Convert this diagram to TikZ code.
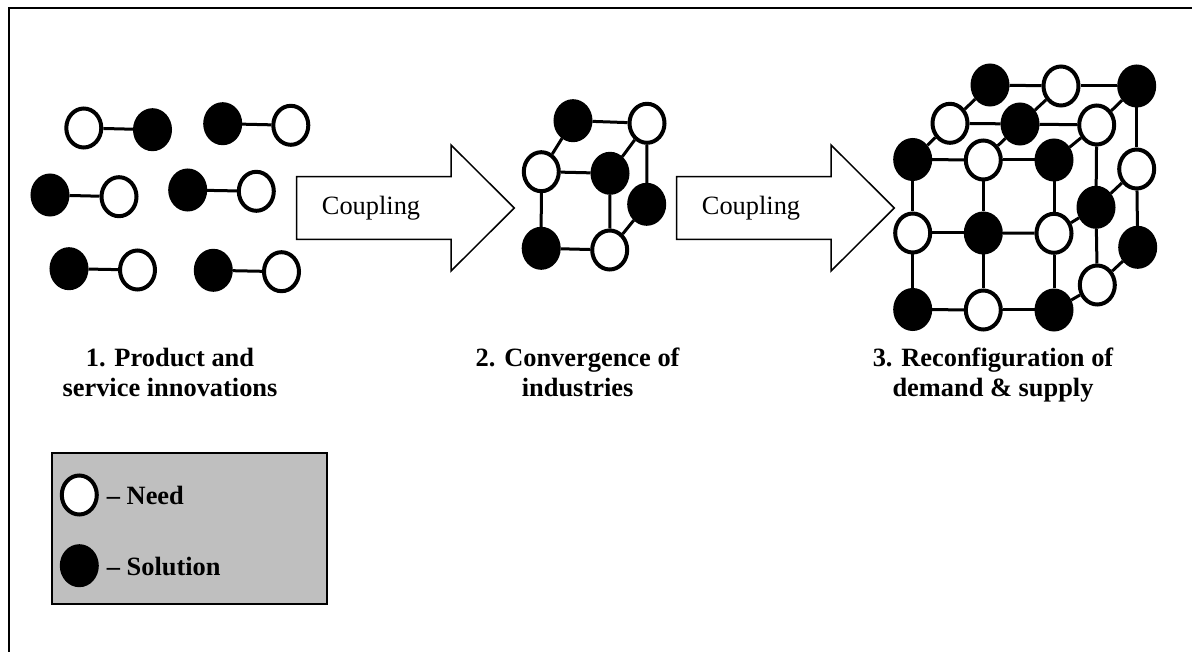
\documentclass[tikz,border=0pt]{standalone}
\usepackage{fontspec}
\setmainfont{Liberation Serif}
\usetikzlibrary{shapes.geometric}
\definecolor{legendgray}{RGB}{191,191,191}
\begin{document}
\begin{tikzpicture}[x=1pt,y=-1pt,
  need/.style={ellipse,draw=black,fill=white,line width=4pt,minimum width=35pt,minimum height=39pt,inner sep=0pt},
  sol/.style={ellipse,draw=black,fill=black,line width=4pt,minimum width=35pt,minimum height=39pt,inner sep=0pt},
  link/.style={line width=3pt},
  bigarrow/.style={draw=black,line width=1.5pt,fill=white,line join=miter},
  lbl/.style={font=\fontsize{26.4}{30}\selectfont\bfseries,align=center,inner sep=0pt,anchor=north},
  coup/.style={font=\fontsize{26.4}{30}\selectfont,inner sep=0pt,anchor=base west},
  legtxt/.style={font=\fontsize{26.4}{30}\selectfont\bfseries,inner sep=0pt,anchor=base west}
]
\useasboundingbox (0,0) rectangle (1192,652);
% frame
\draw[line width=2pt] (9,660) -- (9,8) -- (1200,8);

% ---- stage 1: pairs
\node[need] (p1a) at (83.8,128) {};
\node[sol]  (p1b) at (152.5,129.7) {};
\node[sol]  (p2a) at (222.7,123.7) {};
\node[need] (p2b) at (290.8,125.3) {};
\node[sol]  (p3a) at (50,195) {};
\node[need] (p3b) at (119,196.7) {};
\node[sol]  (p4a) at (187.7,190) {};
\node[need] (p4b) at (256.3,191.3) {};
\node[sol]  (p5a) at (69,268.7) {};
\node[need] (p5b) at (137.5,270) {};
\node[sol]  (p6a) at (213.3,270.3) {};
\node[need] (p6b) at (281.5,271.7) {};
\foreach \a/\b in {p1a/p1b,p2a/p2b,p3a/p3b,p4a/p4b,p5a/p5b,p6a/p6b}
  \draw[link] (\a) -- (\b);

% ---- arrows
\draw[bigarrow] (296.7,176.7) -- (451,176.7) -- (451,145) -- (514.3,208) -- (451,271) -- (451,239.3) -- (296.7,239.3) -- cycle;
\node[coup] (c1) at (321.7,215) {Coupling};
\draw[bigarrow] (676.7,176.7) -- (831,176.7) -- (831,145) -- (894.3,208) -- (831,271) -- (831,239.3) -- (676.7,239.3) -- cycle;
\node[coup] (c2) at (701.7,215) {Coupling};

% ---- stage 2: small cube
\node[sol]  (s1) at (573,120.7) {};
\node[need] (s2) at (647,123.3) {};
\node[need] (s3) at (541.3,171.7) {};
\node[sol]  (s4) at (610,173.3) {};
\node[sol]  (s5) at (646.7,204.3) {};
\node[sol]  (s6) at (541.2,248.3) {};
\node[need] (s7) at (609.7,250) {};
\foreach \a/\b in {s1/s2,s1/s3,s2/s4,s2/s5,s3/s4,s3/s6,s4/s7,s6/s7,s5/s7}
  \draw[link] (\a) -- (\b);

% ---- stage 3: big cube
% back layer
\node[sol]  (b11) at (990,85) {};
\node[need] (b12) at (1061,86) {};
\node[sol]  (b13) at (1136.7,86) {};
\node[need] (b23) at (1136.7,169) {};
\node[sol]  (b33) at (1137.7,247.3) {};
% middle layer
\node[need] (m11) at (950,123.3) {};
\node[sol]  (m12) at (1020,124) {};
\node[need] (m13) at (1096.7,125) {};
\node[sol]  (m23) at (1096,207.3) {};
\node[need] (m33) at (1097.3,285) {};
% front layer
\node[sol]  (f11) at (912.7,159.5) {};
\node[need] (f12) at (983.3,160) {};
\node[sol]  (f13) at (1054,160) {};
\node[need] (f21) at (912.7,233) {};
\node[sol]  (f22) at (983.3,233) {};
\node[need] (f23) at (1054,233.3) {};
\node[sol]  (f31) at (912.7,309.5) {};
\node[need] (f32) at (983.3,310) {};
\node[sol]  (f33) at (1054,310) {};
\foreach \a/\b in {b11/b12,b12/b13,b13/b23,b23/b33,
                   m11/m12,m12/m13,m13/m23,m23/m33,
                   f11/f12,f12/f13,f21/f22,f22/f23,f31/f32,f32/f33,
                   f11/f21,f21/f31,f12/f22,f22/f32,f13/f23,f23/f33,
                   f11/m11,m11/b11,f12/m12,m12/b12,f13/m13,m13/b13,
                   f23/m23,m23/b23,f33/m33,m33/b33}
  \draw[link] (\a) -- (\b);

% ---- labels
\node[lbl] (l1) at (170,348) {1. Product and\\service innovations};
\node[lbl] (l2) at (577.6,348) {2. Convergence of\\industries};
\node[lbl] (l3) at (993,348) {3. Reconfiguration of\\demand \& supply};

% ---- legend
\node[draw=black,line width=1.5pt,fill=legendgray,minimum width=275pt,minimum height=151pt,inner sep=0pt,anchor=north west] (leg) at (51,452) {};
\node[need] (ln) at (79.3,495) {};
\node[legtxt] (lnt) at (106.7,504) {– Need};
\node[sol] (ls) at (79.3,565.7) {};
\node[legtxt] (lst) at (106.7,575) {– Solution};
\end{tikzpicture}
\end{document}
